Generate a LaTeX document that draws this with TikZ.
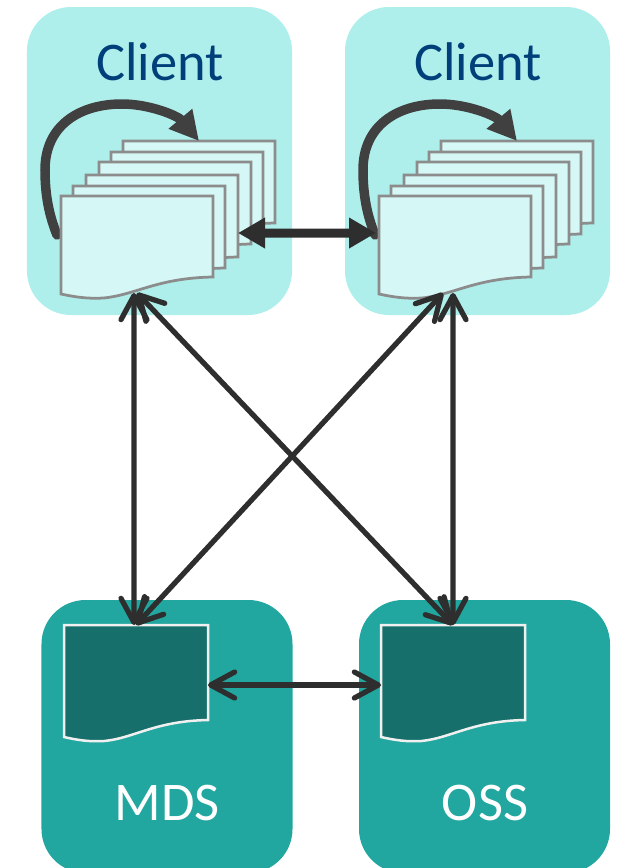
\documentclass[tikz,border=0pt]{standalone}
\usepackage{fontspec}
\setmainfont{Carlito}
\usetikzlibrary{arrows.meta}
\definecolor{clientfill}{HTML}{AFEFEB}
\definecolor{pagefill}{HTML}{D5F7F5}
\definecolor{pageline}{HTML}{8C8C8C}
\definecolor{serverfill}{HTML}{22A7A0}
\definecolor{docfill}{HTML}{166F6B}
\definecolor{clienttext}{HTML}{003F7A}
\definecolor{arrowdark}{HTML}{2E2E2E}
\definecolor{turndark}{HTML}{404040}
\begin{document}
\begin{tikzpicture}[x=0.2mm,y=-0.2mm]

\path [use as bounding box,clip] (0,0) rectangle (618,868);

\newcommand*{\wavesheet}[6]{
\draw (#3,#4) node [shape=rectangle,inner sep=0pt,outer sep=0pt,anchor=north west,
                    minimum width=#5*0.2mm,minimum height=(#6+16)*0.2mm]
            (#1) {};
\begin{scope}[shift={(#3,#4)}]
\draw [#2] (0,0) -- (#5,0) -- (#5,#6)
      .. controls ({#5*0.63},{#6+1}) and ({#5*0.49},{#6+18}) .. ({#5*0.28},{#6+21})
      .. controls ({#5*0.18},{#6+22}) and ({#5*0.09},{#6+20}) .. (0,{#6+17}) -- cycle;
\end{scope}
}

\newcommand*{\clientbox}[1]{
\draw (159.5,161) node [block] (#1) {};
\draw (160,80) node [title,text=clienttext] (#1-name) {Client};
\wavesheet{#1-p6}{page}{123}{141}{152}{82}
% Loop back to the last page
\draw [turn] (57,235) .. controls (49,215) and (45,195) .. (45,170)
             .. controls (45,125) and (80,104) .. (122,104)
             .. controls (150,104) and (178,116) .. (#1-p6.north);
\wavesheet{#1-p5}{page}{111}{152}{152}{82}
\wavesheet{#1-p4}{page}{99}{162}{152}{82}
\wavesheet{#1-p3}{page}{86}{175}{152}{82}
\wavesheet{#1-p2}{page}{73}{186}{152}{82}
\wavesheet{#1-p1}{page}{61}{196}{152}{81}
}

\tikzstyle {block}=[shape=rectangle,fill=clientfill,rounded corners=8.8mm,
     minimum width=53mm,minimum height=61.6mm,inner sep=0pt,outer sep=0pt];

\tikzstyle {server}=[block,fill=serverfill,minimum width=50.2mm,minimum height=54.6mm];

\tikzstyle {title}=[anchor=base,inner sep=0pt,font=\fontsize{31}{34}\selectfont];

\tikzstyle {page}=[draw=pageline,fill=pagefill,line width=0.55mm];

\tikzstyle {doc}=[draw=white!94!black,fill=docfill,line width=0.5mm];

\tikzstyle {turn}=[draw=turndark,line width=1.9mm,line cap=round,
     -{Triangle[length=5.8mm,width=5.8mm]}];

\tikzstyle {wide}=[draw=arrowdark,line width=1.8mm,
     {Triangle[length=5.4mm,width=5.8mm]}-{Triangle[length=5.4mm,width=5.8mm]}];

\tikzstyle {link}=[draw=arrowdark,line width=1.05mm,
     {Straight Barb[length=4.8mm,width=5.2mm,round]}-{Straight Barb[length=4.8mm,width=5.2mm,round]}];

\begin{scope}
\clientbox{c1}
\end{scope}

\begin{scope}[xshift=63.6mm]
\clientbox{c2}
\end{scope}

\draw (167,736.5) node [server] (mds) {};
\draw (167,820) node [title,text=white] (mds-name) {MDS};
\wavesheet{mds-doc}{doc}{64}{625}{144}{95}

\draw (484.5,736.5) node [server] (oss) {};
\draw (485,820) node [title,text=white] (oss-name) {OSS};
\wavesheet{oss-doc}{doc}{381}{625}{144}{95}

% Links between clients
\draw [wide] ([yshift=-1.8mm]c1-p3.east) -- ([xshift=-0.6mm,yshift=2.3mm]c2-p1.west);

% Links from clients to servers
\draw [link] ([xshift=-0.6mm]c1-p1.south) -- ([xshift=-0.4mm]mds-doc.north);
\draw [link] ([xshift=-0.4mm]c2-p1.south) -- (oss-doc.north);
\draw [link] (c1-p1.south) -- (oss-doc.north);
\draw [link] ([xshift=-2.4mm]c2-p1.south) -- (mds-doc.north);

% Link between servers
\draw [link] ([yshift=-0.9mm]mds-doc.east) -- ([yshift=-0.9mm]oss-doc.west);
\end{tikzpicture}
\end{document}
